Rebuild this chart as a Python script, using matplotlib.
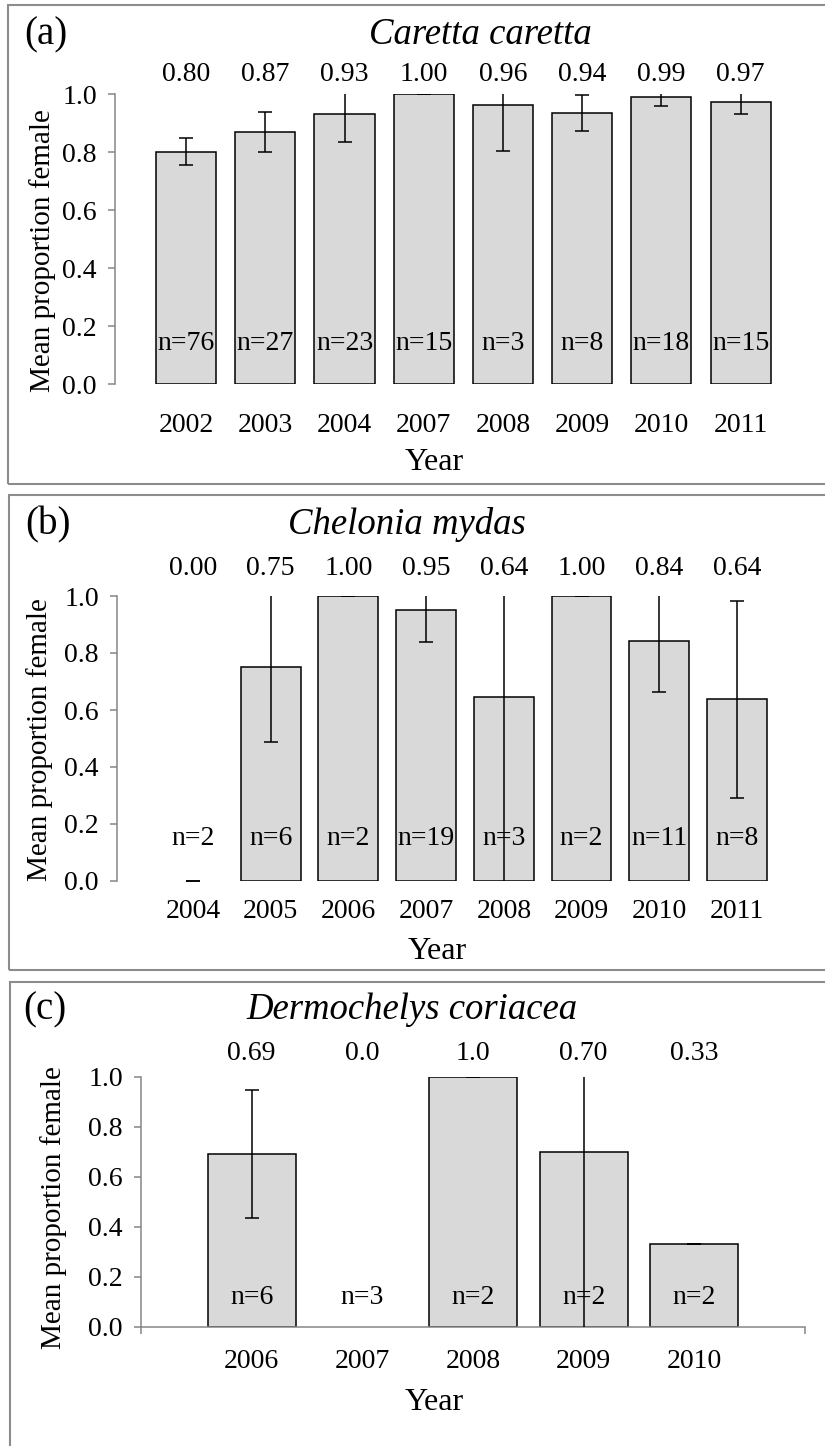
import matplotlib
matplotlib.use('Agg')
import matplotlib.pyplot as plt
from matplotlib.patches import Rectangle
from matplotlib.ticker import FormatStrFormatter

plt.rcParams['font.family'] = ['Liberation Serif', 'DejaVu Serif']

# ---------------- data ----------------
years_a = ['2002', '2003', '2004', '2007', '2008', '2009', '2010', '2011']
mean_a = [0.801, 0.869, 0.930, 1.000, 0.962, 0.936, 0.988, 0.971]
err_a = [0.047, 0.070, 0.094, 0.0, 0.16, 0.062, 0.030, 0.040]
n_a = [76, 27, 23, 15, 3, 8, 18, 15]
lab_a = ['0.80', '0.87', '0.93', '1.00', '0.96', '0.94', '0.99', '0.97']

years_b = ['2004', '2005', '2006', '2007', '2008', '2009', '2010', '2011']
mean_b = [0.0, 0.75, 1.0, 0.95, 0.644, 1.0, 0.843, 0.637]
err_b = [0.0, 0.263, 0.0, 0.11, 0.70, 0.0, 0.18, 0.345]
n_b = [2, 6, 2, 19, 3, 2, 11, 8]
lab_b = ['0.00', '0.75', '1.00', '0.95', '0.64', '1.00', '0.84', '0.64']

years_c = ['2006', '2007', '2008', '2009', '2010']
mean_c = [0.693, 0.0, 1.0, 0.70, 0.332]
err_c = [0.256, float('nan'), 0.0, 0.75, 0.0]
n_c = [6, 3, 2, 2, 2]
lab_c = ['0.69', '0.0', '1.0', '0.70', '0.33']

W, H = 825, 1446
fig = plt.figure(figsize=(W / 100, H / 100), dpi=100)

BOXC = '#8c8c8c'
SPC = '#868686'
FS = 20


def box(x0, x1, ytop, ybot):
    fig.add_artist(Rectangle((x0 / W, 1 - ybot / H), (x1 - x0) / W, (ybot - ytop) / H,
                             transform=fig.transFigure, fill=False, edgecolor=BOXC,
                             linewidth=1.5, clip_on=False))


box(7.5, 840, 5, 484)
box(8.5, 840, 495.5, 970)
box(10, 840, 981.5, 1460)


def panel(rect, xlim, width, years, means, errs, ns, labs, val_y, n_y,
          letter, title, letter_xy, title_xy, ylab_xy, xlab_xy, tick_pad, show_x=False):
    x0, x1, ytop, ybot = rect
    ax = fig.add_axes([x0 / W, 1 - ybot / H, (x1 - x0) / W, (ybot - ytop) / H])

    def ac(px, py):
        return (px - x0) / (x1 - x0), (ybot - py) / (ybot - ytop)

    xs = list(range(len(years)))
    ecs = ['black' if m > 0 else 'none' for m in means]
    ax.bar(xs, means, width, color='#d9d9d9', edgecolor=ecs, linewidth=1.1, zorder=2)
    ax.errorbar(xs, means, yerr=errs, fmt='none', ecolor='black', elinewidth=1.1,
                capsize=5, capthick=1.1, zorder=3)
    for x, lab in zip(xs, labs):
        ax.text(x, val_y, lab, ha='center', va='center', fontsize=FS, clip_on=False)
    for x, n in zip(xs, ns):
        ax.text(x, n_y, f'n={n}', ha='center', va='center', fontsize=FS, zorder=4)

    ax.set_xlim(*xlim)
    ax.set_ylim(0, 1)
    ax.set_yticks([0, 0.2, 0.4, 0.6, 0.8, 1.0])
    ax.yaxis.set_major_formatter(FormatStrFormatter('%.1f'))
    ax.tick_params(axis='y', direction='out', length=5, width=1.1, color=SPC,
                   labelsize=FS, pad=8)
    ax.set_xticks(xs, years)
    ax.tick_params(axis='x', length=0, labelsize=FS, pad=tick_pad)
    for s in ['top', 'right']:
        ax.spines[s].set_visible(False)
    ax.spines['left'].set_color(SPC)
    ax.spines['left'].set_linewidth(1.1)
    if show_x:
        ax.spines['bottom'].set_color(SPC)
        ax.spines['bottom'].set_linewidth(1.1)
        ax.set_xticks([xlim[0], xlim[1]], minor=True)
        ax.tick_params(axis='x', which='minor', direction='out', length=5, width=1.1, color=SPC)
    else:
        ax.spines['bottom'].set_visible(False)

    ax.set_ylabel('Mean proportion female', fontsize=21)
    ax.yaxis.label.set_va('center')
    ax.yaxis.set_label_coords(*ac(*ylab_xy))
    ax.set_xlabel('Year', fontsize=23)
    ax.xaxis.label.set_va('center')
    ax.xaxis.set_label_coords(*ac(*xlab_xy))

    ax.text(*ac(*letter_xy), letter, transform=ax.transAxes, ha='center', va='center',
            fontsize=28, clip_on=False)
    ax.text(*ac(*title_xy), title, transform=ax.transAxes, ha='center', va='center',
            fontsize=26.5, style='italic', clip_on=False)
    ax.patch.set_alpha(0)
    return ax


panel((115, 805, 94, 384), (-0.898, 7.813), 0.76, years_a, mean_a, err_a, n_a, lab_a,
      1.066, 0.141, '(a)', 'Caretta caretta', (46, 35), (480, 35), (43, 251), (434, 463), 21)

panel((117, 805, 596, 881), (-0.978, 7.876), 0.77, years_b, mean_b, err_b, n_b, lab_b,
      1.098, 0.15, '(b)', 'Chelonia mydas', (48, 525), (407, 525), (40, 740), (437, 952), 13)

panel((141, 805, 1077, 1327), (-1, 5), 0.795, years_c, mean_c, err_c, n_c, lab_c,
      1.096, 0.116, '(c)', 'Dermochelys coriacea', (45, 1010), (412, 1010), (54, 1208),
      (434, 1403), 16, show_x=True)

fig.savefig('out.png', dpi=100, facecolor='white')
